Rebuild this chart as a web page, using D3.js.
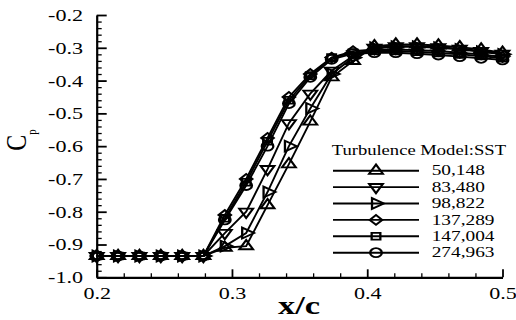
<!doctype html>
<html lang="en">
<head>
 <meta charset="utf-8">
 <title>Cp distribution</title>
 <script src="https://cdnjs.cloudflare.com/ajax/libs/d3/7.8.5/d3.min.js"></script>
</head>
<body style="margin:0;background:#fff">
 <svg width="516" height="320"></svg>
 <script>

 // x/c stations (same for every run)
 const xc=[0.2,0.2158,0.2316,0.2474,0.2632,0.2789,0.2947,0.3105,0.3263,0.3421,
 0.3579,0.3737,0.3895,0.4053,0.4211,0.4368,0.4526,0.4684,0.4842,0.5];

 const cp50148=[-0.935,-0.935,-0.935,-0.935,-0.935,-0.935,-0.91,-0.905,-0.78,-0.655,
 -0.525,-0.39,-0.34,-0.295,-0.29,-0.29,-0.293,-0.298,-0.305,-0.315];
 const cp83480=[-0.935,-0.935,-0.935,-0.935,-0.935,-0.935,-0.865,-0.80,-0.67,-0.53,
 -0.44,-0.37,-0.325,-0.30,-0.295,-0.295,-0.298,-0.303,-0.31,-0.318];
 const cp98822=[-0.935,-0.935,-0.935,-0.935,-0.935,-0.935,-0.905,-0.865,-0.74,-0.60,
 -0.485,-0.38,-0.33,-0.30,-0.297,-0.297,-0.30,-0.305,-0.312,-0.32];
 const cp137289=[-0.935,-0.935,-0.935,-0.935,-0.935,-0.935,-0.81,-0.70,-0.575,-0.45,
 -0.38,-0.33,-0.31,-0.305,-0.305,-0.307,-0.31,-0.315,-0.32,-0.328];
 const cp147004=[-0.935,-0.935,-0.935,-0.935,-0.935,-0.935,-0.82,-0.71,-0.585,-0.46,
 -0.385,-0.33,-0.315,-0.31,-0.31,-0.312,-0.316,-0.32,-0.325,-0.332];
 const cp274963=[-0.935,-0.935,-0.935,-0.935,-0.935,-0.935,-0.825,-0.72,-0.60,-0.47,
 -0.39,-0.335,-0.318,-0.315,-0.315,-0.318,-0.322,-0.327,-0.332,-0.337];

 const runNames=["50,148","83,480","98,822","137,289","147,004","274,963"];
 const runMarkers=["triUp","triDown","triRight","diamond","square","circle"];
 const legendTitle="Turbulence Model:SST";

 const xTicks=[0.2,0.3,0.4,0.5];
 const xMinor=[0.22,0.24,0.26,0.28,0.32,0.34,0.36,0.38,0.42,0.44,0.46,0.48];
 const yTicks=[-1.0,-0.9,-0.8,-0.7,-0.6,-0.5,-0.4,-0.3,-0.2];
 const yMinor=d3.range(-0.98,-0.2,0.02).filter(v=>Math.abs(v*10-Math.round(v*10))>0.01);

 const runs=[cp50148,cp83480,cp98822,cp137289,cp147004,cp274963].map((vals,k)=>({
 name:runNames[k],
 marker:runMarkers[k],
 points:xc.map((x,i)=>({x:x,cp:vals[i]}))
 }));

 const font='"Liberation Serif"';
 const sx=1.38; // the picture is stretched sideways
 const svg=d3.select("svg");

 const xScale=d3.scaleLinear().domain([0.2,0.5]).range([96.7,502.5]);
 const yScale=d3.scaleLinear().domain([-1.0,-0.2]).range([277.3,15]);

 // markers
 const symbols={
 triUp:{type:d3.symbolTriangle,size:50,rot:0},
 triDown:{type:d3.symbolTriangle,size:50,rot:180},
 triRight:{type:d3.symbolTriangle,size:50,rot:90},
 diamond:{type:d3.symbolSquare,size:48,rot:45},
 square:{type:d3.symbolSquare,size:46,rot:0},
 circle:{type:d3.symbolCircle,size:64,rot:0}
 };
 function markerPath(m){
 return d3.symbol().type(symbols[m].type).size(symbols[m].size)();
 }
 function markerTransform(m,x,y){
 return `translate(${x},${y}) scale(1.28,1) rotate(${symbols[m].rot})`;
 }

 // axes
 const yAxisG=svg.append("g").attr("class","yAxis").attr("transform",`translate(${xScale(0.2)},0)`);
 yAxisG.append("g")
 .call(d3.axisLeft(yScale).tickValues(yMinor).tickSize(-5).tickFormat(""))
 .call(g=>g.select(".domain").remove())
 .selectAll("line").attr("stroke-width",1.3);
 const yMajor=yAxisG.append("g")
 .call(d3.axisLeft(yScale).tickValues(yTicks).tickSizeInner(-10).tickSizeOuter(0));
 yMajor.select(".domain").attr("stroke-width",2.2);
 yMajor.selectAll("line").attr("stroke-width",1.8);
 yMajor.selectAll("text")
 .attr("x",-13.7/sx).attr("dy","0.34em")
 .attr("transform",`scale(${sx},1)`)
 .style("font-size","16px")
 .text(d=>d.toFixed(1));

 const xAxisG=svg.append("g").attr("class","xAxis").attr("transform",`translate(0,${yScale(-1.0)})`);
 xAxisG.append("g")
 .call(d3.axisBottom(xScale).tickValues(xMinor).tickSize(-4).tickFormat(""))
 .call(g=>g.select(".domain").remove())
 .selectAll("line").attr("stroke-width",1.3);
 const xMajor=xAxisG.append("g")
 .call(d3.axisBottom(xScale).tickValues(xTicks).tickSizeInner(-8).tickSizeOuter(0).tickFormat(d3.format(".1f")));
 xMajor.select(".domain").attr("stroke-width",2.2);
 xMajor.selectAll("line").attr("stroke-width",1.8);
 xMajor.selectAll("text")
 .attr("y",22).attr("dy",null)
 .attr("transform",`scale(${sx},1)`)
 .style("font-size","16px");

 // axis titles
 svg.append("text")
 .attr("transform",`translate(299,314) scale(${sx},1)`)
 .attr("text-anchor","middle")
 .style("font-size","25px")
 .style("font-weight","bold")
 .text("x/c");

 const cpTitle=svg.append("text")
 .attr("transform","translate(25.5,140) scale(1.2,1) rotate(-90)")
 .attr("text-anchor","middle")
 .style("font-size","24px");
 cpTitle.append("tspan").text("C");
 cpTitle.append("tspan").attr("dy",8.5).style("font-size","11px").text("p");

 // curves
 const line=d3.line().x(d=>xScale(d.x)).y(d=>yScale(d.cp));
 const runG=svg.append("g").attr("class","runs");
 runG.selectAll(".run-line")
 .data(runs)
 .enter()
 .append("path")
 .attr("class","run-line")
 .attr("d",d=>line(d.points))
 .attr("fill","none")
 .attr("stroke","#000")
 .attr("stroke-width",1.9);

 runs.forEach(r=>{
 runG.selectAll(".m-"+r.marker)
 .data(r.points)
 .enter()
 .append("path")
 .attr("class","m-"+r.marker)
 .attr("d",markerPath(r.marker))
 .attr("transform",d=>markerTransform(r.marker,xScale(d.x),yScale(d.cp)))
 .attr("fill","none")
 .attr("stroke","#000")
 .attr("stroke-width",1.8);
 });

 // legend
 const legend=svg.append("g").attr("class","legend");
 legend.append("text")
 .attr("transform",`translate(331.7,155) scale(1.3,1)`)
 .style("font-size","14.3px")
 .text(legendTitle);

 const rowY=d3.scalePoint().domain(runNames).range([170.7,252.7]);
 const rows=legend.selectAll(".row")
 .data(runs)
 .enter()
 .append("g")
 .attr("class","row")
 .attr("transform",d=>`translate(0,${rowY(d.name)})`);
 rows.append("line")
 .attr("x1",333).attr("x2",419)
 .attr("stroke","#000").attr("stroke-width",1.9);
 rows.append("path")
 .attr("d",d=>markerPath(d.marker))
 .attr("transform",d=>markerTransform(d.marker,376,0))
 .attr("fill","none")
 .attr("stroke","#000")
 .attr("stroke-width",1.8);
 rows.append("text")
 .attr("transform",`translate(431.7,4.7) scale(${sx},1)`)
 .style("font-size","14px")
 .text(d=>d.name);

 svg.selectAll("text").style("font-family",font);

 </script>
</body>
</html>
